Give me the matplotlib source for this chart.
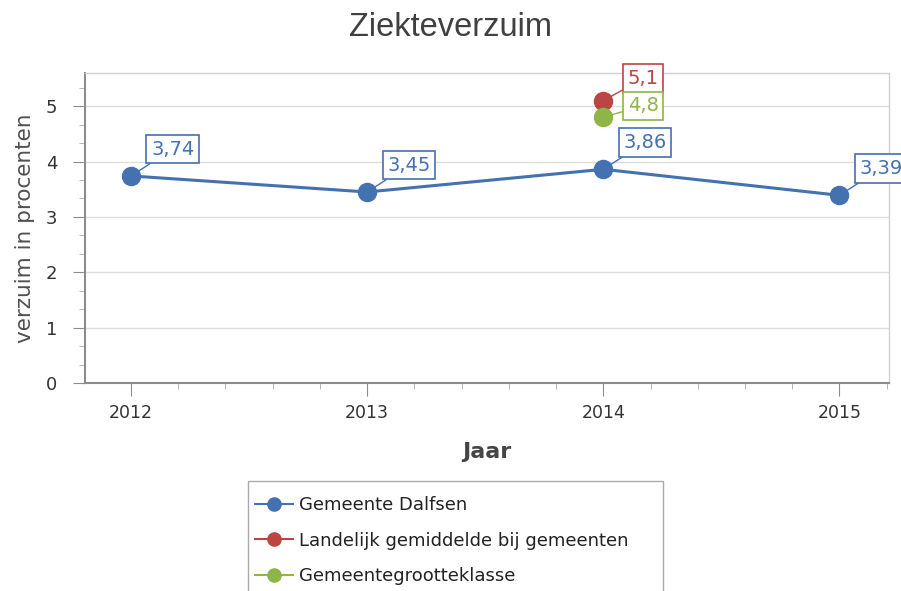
import numpy as np
import matplotlib
matplotlib.use("Agg")
import matplotlib.pyplot as plt
from matplotlib.lines import Line2D
from matplotlib.patches import Rectangle
from matplotlib.ticker import MultipleLocator

# sick leave per year, in percent
years = [2012, 2013, 2014, 2015]
dalfsen = [3.74, 3.45, 3.86, 3.39]
landelijk_jaar = [2014]
landelijk = [5.1]
klasse_jaar = [2014]
klasse = [4.8]

series_names = ["Gemeente Dalfsen", "Landelijk gemiddelde bij gemeenten",
                "Gemeentegrootteklasse"]
blue = "#4471b0"
red = "#bb4542"
green = "#8fb447"

plt.rcParams['font.family'] = ['DejaVu Sans']

fig = plt.figure(figsize=(9.01, 5.91), dpi=100)
ax = fig.add_axes([0.0943, 0.352, 0.8924, 0.5245])

ax.plot(years, dalfsen, color=blue, lw=2.2, marker='o', ms=13, zorder=3)
ax.plot(landelijk_jaar, landelijk, color=red, lw=2.2, marker='o', ms=13, zorder=3)
ax.plot(klasse_jaar, klasse, color=green, lw=2.2, marker='o', ms=13, zorder=3)


def label(x, y, color, dx, dy):
    txt = ("%.2f" % y).rstrip('0').replace('.', ',')
    ax.annotate(txt, (x, y), xytext=(dx, dy), textcoords='offset points',
                ha='left', va='bottom', fontsize=14, color=color,
                bbox=dict(boxstyle='square,pad=0.24', fc='white', ec=color, lw=1.2),
                arrowprops=dict(arrowstyle='-', color=color, lw=1,
                                shrinkA=0, shrinkB=0),
                annotation_clip=False, zorder=4)


for x, y in zip(years, dalfsen):
    label(x, y, blue, 14.5, 12.5)
label(landelijk_jaar[0], landelijk[0], red, 17.5, 9)
label(klasse_jaar[0], klasse[0], green, 17.5, 1.5)

ax.set_xlim(2011.805, 2015.21)
ax.set_ylim(0, 5.6)
ax.set_xticks(years)
ax.xaxis.set_minor_locator(MultipleLocator(0.2))
ax.set_yticks(range(6))
ax.yaxis.set_minor_locator(MultipleLocator(1 / 3))
ax.tick_params(axis='both', which='major', direction='out', length=9,
               color='#8c8c8c', labelcolor='#333333')
ax.tick_params(axis='both', which='minor', direction='out', length=4.5,
               color='#aaaaaa')
ax.tick_params(axis='x', which='major', pad=6, labelsize=12.5)
ax.tick_params(axis='y', which='major', pad=11, labelsize=13)

ax.grid(axis='y', which='major', color='#dddddd', lw=1)
ax.set_axisbelow(True)
for side in ['left', 'bottom']:
    ax.spines[side].set_color('#8c8c8c')
    ax.spines[side].set_linewidth(1.5)
for side in ['top', 'right']:
    ax.spines[side].set_color('#d0d0d0')
    ax.spines[side].set_linewidth(1)

fig.text(0.5, 1 - 28 / 591, "Ziekteverzuim", ha='center', va='center',
         fontsize=23.5, color='#404040', family='Liberation Sans')
ax.set_ylabel("verzuim in procenten", fontsize=15.5, color='#505050')
ax.yaxis.label.set_va('center')
ax.yaxis.set_label_coords(-60 / 804, 0.5)
ax.set_xlabel("Jaar", fontsize=16, fontweight='bold', color='#454545')
ax.xaxis.set_label_coords(0.5, -69 / 310)
ax.xaxis.label.set_va('center')

# legend box runs past the bottom edge of the figure
fig.patches.append(Rectangle((248 / 901, -0.05), 415 / 901, 0.05 + 110 / 591,
                             transform=fig.transFigure, fc='white',
                             ec='#aaaaaa', lw=1))
handles = [Line2D([], [], color=c, lw=1.5, marker='o', ms=9.5)
           for c in (blue, red, green)]
fig.legend(handles, series_names, loc='upper left',
           bbox_to_anchor=(255 / 901, 1 - 496 / 591),
           fontsize=13, frameon=False, handlelength=2.1, handletextpad=0.33,
           labelspacing=0.98, borderaxespad=0, borderpad=0,
           labelcolor='#222222')

fig.savefig("out.png", dpi=100)
